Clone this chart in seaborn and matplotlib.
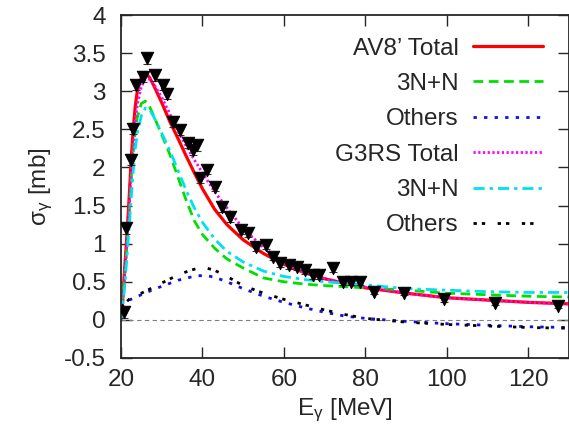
import numpy as np
import pandas as pd
import matplotlib
matplotlib.use("Agg")
import matplotlib.pyplot as plt
import seaborn as sns


# Energy grid used for the theory curves (MeV)
E_grid = [20, 20.5, 21, 21.5, 22, 22.5, 23, 23.5, 24, 25, 26, 27, 28, 30, 32, 34, 36, 38, 40,
          43, 46, 50, 55, 60, 65, 70, 80, 90, 100, 110, 120, 130]

av8_total = [0.0, 0.35, 0.75, 1.15, 1.6, 2.1, 2.5, 2.8, 3.0, 3.18, 3.24, 3.18, 3.08, 2.85, 2.6,
             2.38, 2.15, 1.93, 1.72, 1.45, 1.25, 1.05, 0.87, 0.73, 0.62, 0.54, 0.42, 0.35, 0.29,
             0.26, 0.23, 0.21]
av8_3nn = [0.0, 0.3, 0.65, 1.0, 1.4, 1.85, 2.2, 2.48, 2.66, 2.84, 2.87, 2.8, 2.68, 2.43, 2.17,
           1.87, 1.57, 1.3, 1.12, 0.94, 0.8, 0.68, 0.55, 0.5, 0.47, 0.45, 0.42, 0.39, 0.35,
           0.33, 0.31, 0.3]
g3rs_total = [0.0, 0.28, 0.65, 1.05, 1.45, 1.9, 2.3, 2.6, 2.82, 3.06, 3.16, 3.16, 3.1, 2.92, 2.7,
              2.48, 2.28, 2.1, 1.93, 1.68, 1.47, 1.2, 0.95, 0.75, 0.62, 0.54, 0.43, 0.35, 0.29,
              0.26, 0.23, 0.21]
g3rs_3nn = [0.0, 0.2, 0.5, 0.85, 1.22, 1.6, 1.95, 2.25, 2.45, 2.68, 2.78, 2.76, 2.67, 2.45, 2.22,
            1.96, 1.7, 1.47, 1.28, 1.06, 0.9, 0.76, 0.64, 0.57, 0.53, 0.5, 0.46, 0.41, 0.39,
            0.37, 0.36, 0.36]

# "Others" curves on their own grid
E_oth = [20, 22, 25, 28, 31, 34, 37, 39, 41, 43, 46, 50, 55, 60, 65, 70, 75, 80, 90, 100, 110, 120, 130]
av8_others = [0.17, 0.26, 0.33, 0.4, 0.46, 0.52, 0.56, 0.58, 0.58, 0.56, 0.5, 0.41, 0.31, 0.23,
              0.16, 0.1, 0.05, 0.02, -0.02, -0.05, -0.07, -0.09, -0.1]
g3rs_others = [0.17, 0.27, 0.35, 0.43, 0.51, 0.59, 0.65, 0.68, 0.68, 0.65, 0.57, 0.45, 0.35, 0.27,
               0.2, 0.13, 0.07, 0.02, -0.03, -0.06, -0.08, -0.1, -0.11]

# Experimental points
E_exp = [20.7, 21.2, 22.4, 23.0, 23.8, 25.5, 26.3, 28.3, 30.3, 31.2, 32.8, 34.4, 36.4, 37.6, 38.6,
         39.3, 41.0, 43.0, 44.8, 46.7, 49.5, 51.3, 53.2, 55.6, 57.2, 59.0, 61.2, 63.1, 65.2, 67.2,
         68.7, 72.0, 74.4, 76.4, 78.7, 82.1, 89.4, 99.2, 111.9, 127.2]
sig_exp = [0.10, 1.20, 2.10, 2.51, 3.08, 3.19, 3.43, 3.21, 3.08, 2.97, 2.60, 2.49, 2.32, 2.23, 2.29,
           1.86, 1.97, 1.75, 1.48, 1.35, 1.18, 1.14, 0.96, 0.98, 0.83, 0.74, 0.72, 0.70, 0.65, 0.59,
           0.59, 0.68, 0.50, 0.50, 0.50, 0.37, 0.35, 0.27, 0.22, 0.18]
err_exp = [0.07, 0.07, 0.07, 0.07, 0.07, 0.07, 0.07, 0.07, 0.07, 0.07, 0.07, 0.07, 0.07, 0.07, 0.07,
           0.06, 0.06, 0.06, 0.06, 0.06, 0.05, 0.05, 0.05, 0.05, 0.05, 0.05, 0.05, 0.05, 0.05, 0.05,
           0.05, 0.05, 0.04, 0.04, 0.04, 0.03, 0.03, 0.03, 0.03, 0.03]

sns.set_style("ticks")
plt.rcParams['font.family'] = ['Liberation Sans', 'DejaVu Sans']
plt.rcParams['mathtext.fontset'] = 'custom'
plt.rcParams['mathtext.rm'] = 'Liberation Sans'
plt.rcParams['mathtext.it'] = 'Liberation Sans'

fs = 17.5

fig = plt.figure(figsize=(5.69, 4.29), dpi=100)
ax = fig.add_axes([121 / 569, 1 - 358 / 429, (569 - 121) / 569, (358 - 15) / 429])

ax.axhline(0, color='gray', lw=0.8, ls=(0, (4, 3)), zorder=1)

lw = 2.0
sns.lineplot(x=E_grid, y=av8_total, ax=ax, color='#ff0000', lw=2.3, label="AV8’ Total")
sns.lineplot(x=E_grid, y=av8_3nn, ax=ax, color='#00e000', lw=lw, linestyle=(0, (3.5, 2)), label='3N+N')
sns.lineplot(x=E_oth, y=av8_others, ax=ax, color='#1010e0', lw=lw, linestyle=(0, (1.2, 2.6)), label='Others')
sns.lineplot(x=E_grid, y=g3rs_total, ax=ax, color='#ff00ff', lw=lw, linestyle=(0, (0.8, 0.9)), label='G3RS Total')
sns.lineplot(x=E_grid, y=g3rs_3nn, ax=ax, color='#00e0f0', lw=lw, linestyle=(0, (4, 1.8, 1.2, 1.8)), label='3N+N')
sns.lineplot(x=E_oth, y=g3rs_others, ax=ax, color='black', lw=lw, linestyle=(0, (1.2, 1.8, 1.2, 4.5)), label='Others')

# data with error bars
ax.errorbar(E_exp, sig_exp, yerr=err_exp, fmt='none', ecolor='#333333', elinewidth=0.8,
            capsize=3, capthick=0.8, zorder=4)
sns.scatterplot(x=E_exp, y=sig_exp, ax=ax, marker='v', s=80, color='black', edgecolor='black',
                zorder=5, legend=False)

ax.set_xlim(20, 130)
ax.set_ylim(-0.5, 4)
ax.set_xticks([20, 40, 60, 80, 100, 120])
ax.set_yticks([-0.5, 0, 0.5, 1, 1.5, 2, 2.5, 3, 3.5, 4])
ax.set_yticklabels(['-0.5', '0', '0.5', '1', '1.5', '2', '2.5', '3', '3.5', '4'])
ax.tick_params(direction='in', length=8, width=1.0, top=True, right=True, labelsize=fs)
ax.tick_params(axis='y', pad=11)
ax.tick_params(axis='x', pad=8)
for s in ax.spines.values():
    s.set_linewidth(1.3)
    s.set_visible(True)

ax.set_xlabel("E$_{\\mathrm{γ}}$ [MeV]", fontsize=fs, labelpad=4)
ax.set_ylabel("σ$_{\\mathrm{γ}}$ [mb]", fontsize=fs, labelpad=6)

ax.legend(loc='upper right', bbox_to_anchor=(0.99, 0.998), frameon=False, markerfirst=False,
          handlelength=2.85, labelspacing=0.55, fontsize=fs, handletextpad=0.6, borderpad=0.4)

fig.savefig("out.png", dpi=100)
